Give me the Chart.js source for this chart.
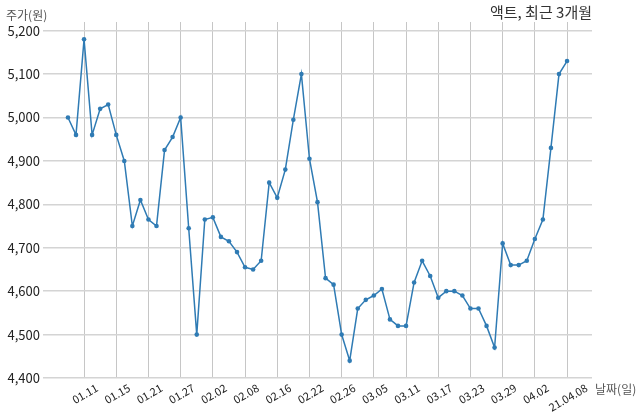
<!DOCTYPE html>
<html>
<head>
<meta charset="utf-8">
<script src="https://cdn.jsdelivr.net/npm/chart.js@4"></script>
<style>
html,body{margin:0;padding:0;background:#fff;}
#wrap{width:640px;height:419px;position:relative;}
</style>
</head>
<body>
<div id="wrap"><canvas id="c" width="640" height="419" style="width:640px;height:419px"></canvas></div>
<script>
const dates = ["01.07","01.08","01.11","01.12","01.13","01.14","01.15","01.18","01.19","01.20","01.21","01.22","01.25","01.26","01.27","01.28","01.29","02.01","02.02","02.03","02.04","02.05","02.08","02.09","02.10","02.15","02.16","02.17","02.18","02.19","02.22","02.23","02.24","02.25","02.26","03.02","03.03","03.04","03.05","03.08","03.09","03.10","03.11","03.12","03.15","03.16","03.17","03.18","03.19","03.22","03.23","03.24","03.25","03.26","03.29","03.30","03.31","04.01","04.02","04.05","04.06","04.07","21.04.08"];
const prices = [5000,4960,5180,4960,5020,5030,4960,4900,4750,4810,4765,4750,4925,4955,5000,4745,4500,4765,4770,4725,4715,4690,4655,4650,4670,4850,4815,4880,4995,5100,4905,4805,4630,4615,4500,4440,4560,4580,4590,4605,4535,4520,4520,4620,4670,4635,4585,4600,4600,4590,4560,4560,4520,4470,4710,4660,4660,4670,4720,4765,4930,5100,5130];
const xTickLabels = ["01.11","01.15","01.21","01.27","02.02","02.08","02.16","02.22","02.26","03.05","03.11","03.17","03.23","03.29","04.02","21.04.08"];
const yTicks = [4400,4500,4600,4700,4800,4900,5000,5100,5200];
const titleText = "액트, 최근 3개월";
const yTitle = "주가(원)";
const xTitle = "날짜(일)";

const FONT = "'Noto Sans CJK KR','Noto Sans',sans-serif";

const textPlugin = {
  id: 'texts',
  afterDraw(chart) {
    const ctx = chart.ctx;
    const ca = chart.chartArea;
    const xs = chart.scales.x;
    ctx.save();
    // rotated x tick labels, centred on tick, top of rotated box just below axis
    ctx.fillStyle = '#222';
    ctx.font = "11px " + FONT;
    const ang = 30 * Math.PI / 180;
    xTickLabels.forEach(l => {
      const px = xs.getPixelForValue(dates.indexOf(l));
      const m = ctx.measureText(l);
      const w = m.width;
      const h = 9;
      const halfH = (w * Math.sin(ang) + h * Math.cos(ang)) / 2;
      ctx.save();
      ctx.translate(px + 1, ca.bottom + 5 + halfH);
      ctx.rotate(-ang);
      ctx.textAlign = 'center';
      ctx.textBaseline = 'middle';
      ctx.fillText(l, 0, 0);
      ctx.restore();
    });
    ctx.fillStyle = '#333';
    ctx.font = "15px " + FONT;
    ctx.textAlign = 'right';
    ctx.textBaseline = 'middle';
    ctx.fillText(titleText, ca.right, 12);
    ctx.fillStyle = '#555';
    ctx.font = "12px " + FONT;
    ctx.textAlign = 'left';
    ctx.fillText(yTitle, 6, 15);
    ctx.fillText(xTitle, ca.right + 3, ca.bottom + 11);
    ctx.restore();
  }
};

new Chart(document.getElementById('c'), {
  type: 'line',
  data: {
    datasets: [{
      data: prices.map((v, i) => ({x: i, y: v})),
      borderColor: '#2f7bb4',
      backgroundColor: '#2f7bb4',
      borderWidth: 1.5,
      pointRadius: 2.3,
      pointBorderWidth: 0,
      pointBackgroundColor: '#2f7bb4',
      tension: 0,
      fill: false
    }]
  },
  options: {
    responsive: false,
    animation: false,
    devicePixelRatio: 1,
    layout: {padding: {left: 0, right: 48, top: 22, bottom: 0}},
    plugins: {legend: {display: false}, tooltip: {enabled: false}},
    scales: {
      x: {
        type: 'linear',
        min: -3.1,
        max: 65.1,
        afterBuildTicks(scale) {
          scale.ticks = xTickLabels.map(l => ({value: dates.indexOf(l)}));
        },
        afterFit(scale) { scale.height = 41; },
        border: {display: false},
        grid: {color: '#c6c6c6', lineWidth: 1, drawTicks: false},
        ticks: {display: false}
      },
      y: {
        type: 'linear',
        min: 4400,
        max: 5220,
        afterBuildTicks(scale) {
          scale.ticks = yTicks.map(v => ({value: v}));
        },
        afterFit(scale) { scale.width = 43; },
        border: {display: false},
        grid: {color: '#d4d4d4', lineWidth: 1.6, drawTicks: false},
        ticks: {
          padding: 3,
          color: '#222',
          font: {size: 13, family: FONT},
          callback: (v) => v.toLocaleString('en-US')
        }
      }
    }
  },
  plugins: [textPlugin]
});
</script>
</body>
</html>
